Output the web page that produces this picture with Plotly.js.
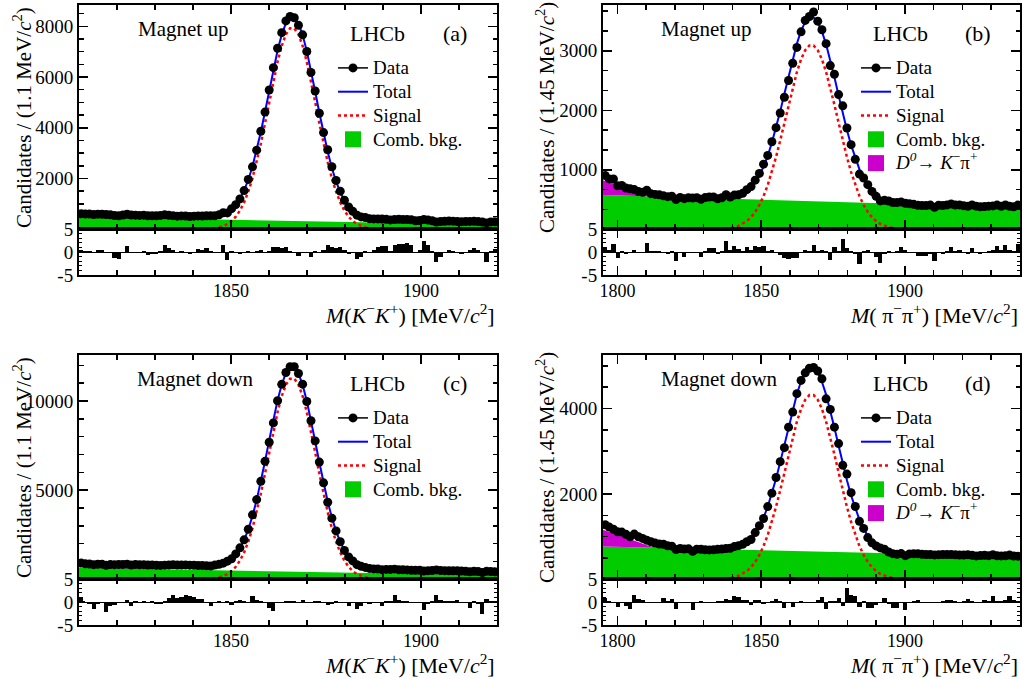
<!DOCTYPE html>
<html><head><meta charset="utf-8">
<script src="https://cdn.plot.ly/plotly-3.0.1.min.js"></script>
<style>html,body{margin:0;padding:0;background:#fff}#chart{width:1025px;height:679px}</style>
</head><body><div id="chart"></div>
<script>
// ---------- binning ----------
const NBINS = 100;
const kkRange = [1810, 1920], kkBin = 1.1;
const ppRange = [1795, 1940], ppBin = 1.45;

// ---------- (a) K-K+ magnet up ----------
const dataA = [610,600,599,584,596,594,581,569,544,534,
561,591,562,555,547,556,533,532,532,545,
570,549,537,518,527,521,505,516,527,522,
534,529,532,570,652,644,812,971,1198,1525,
1965,2462,3118,3865,4619,5490,6369,7137,7751,8214,
8386,8338,8043,7665,7005,6182,5448,4572,3811,3136,
2465,1924,1502,1145,876,708,556,487,463,417,
409,407,401,393,368,387,390,385,386,376,
337,347,383,361,334,287,306,317,327,319,
306,299,307,309,313,304,287,252,291,293];
const totalA = [598,595,592,589,586,582,579,576,573,570,
566,563,560,557,554,551,547,544,541,538,
535,531,528,525,522,519,516,514,513,513,
516,524,539,568,615,691,806,974,1212,1533,
1952,2477,3107,3834,4633,5468,6290,7045,7672,8124,
8359,8356,8115,7656,7022,6261,5433,4592,3786,3053,
2416,1885,1460,1132,888,713,592,510,457,421,
399,385,376,370,364,360,356,353,350,346,
343,340,337,334,330,327,324,321,318,315,
311,308,305,302,299,295,292,289,286,283];
const signalA = [0,0,0,0,0,0,0,0,0,0,
0,0,0,0,0,0,0,0,0,0,
0,0,0,0,0,0,1,2,4,7,
13,24,43,75,125,204,322,494,735,1059,
1481,2009,2643,3373,4175,5013,5838,6596,7227,7682,
7920,7920,7682,7227,6596,5838,5013,4175,3373,2643,
2009,1481,1059,735,494,322,204,125,75,43,
24,13,7,4,2,1,0,0,0,0,
0,0,0,0,0,0,0,0,0,0,
0,0,0,0,0,0,0,0,0,0];
const pullA = [0.5,0.2,0.3,-0.2,0.4,0.5,0.1,-0.3,-1.2,-1.5,
-0.2,1.2,0.1,-0.1,-0.3,0.2,-0.6,-0.5,-0.4,0.3,
1.5,0.8,0.4,-0.3,0.2,0.1,-0.5,0.1,0.6,0.4,
0.8,0.2,-0.3,0.1,1.5,-1.8,0.2,-0.1,-0.4,-0.2,
0.3,-0.3,0.2,0.5,-0.2,0.3,1.0,1.1,0.9,1.0,
0.3,-0.2,-0.8,0.1,-0.2,-1.0,0.2,-0.3,0.4,1.5,
1.0,0.9,1.1,0.4,-0.4,-0.2,-1.5,-1.0,0.3,-0.2,
0.5,1.1,1.3,1.2,0.2,1.5,1.8,1.7,1.9,1.6,
-0.3,0.4,2.5,1.5,0.2,-2.2,-1.0,-0.2,0.5,0.2,
-0.3,-0.5,0.1,0.4,0.8,0.5,-0.3,-2.2,0.3,0.6];
const combA = [490, 174];          // at kkRange ends

// ---------- (b) pi-pi+ magnet up ----------
const dataB = [904,846,846,730,736,693,682,667,633,623,
655,599,586,579,562,548,556,499,535,515,
530,525,531,504,532,542,544,512,530,581,
543,574,580,604,666,717,825,939,1095,1242,
1472,1708,1955,2220,2501,2791,3057,3319,3511,3576,
3652,3498,3354,3120,2751,2605,2264,2075,1702,1422,
1175,927,861,750,637,554,477,486,475,449,
449,457,438,428,419,404,400,400,406,371,
404,398,410,424,408,410,394,386,410,389,
379,381,389,393,406,387,408,385,379,406];
const totalB = [874,832,795,763,731,704,679,657,638,621,
606,592,581,572,564,557,551,546,542,538,
535,532,529,527,525,524,523,523,525,528,
534,546,566,597,641,704,791,906,1053,1235,
1453,1704,1982,2277,2577,2866,3124,3336,3487,3564,
3562,3480,3325,3109,2847,2554,2250,1951,1669,1414,
1192,1006,855,736,645,578,530,495,471,455,
443,436,430,426,423,420,418,416,414,412,
410,408,406,404,402,400,398,396,394,391,
389,387,385,383,381,379,377,375,373,371];
const signalB = [0,0,0,0,0,0,0,0,0,0,
0,0,0,0,0,0,0,0,0,0,
0,0,0,0,0,1,2,4,8,13,
22,36,58,91,137,202,291,408,557,741,
961,1214,1494,1791,2093,2384,2644,2858,3011,3090,
3090,3011,2858,2644,2384,2093,1791,1494,1214,961,
741,557,408,291,202,137,91,58,36,22,
13,8,4,2,1,0,0,0,0,0,
0,0,0,0,0,0,0,0,0,0,
0,0,0,0,0,0,0,0,0,0];
const pullB = [1.0,0.5,1.8,-1.2,0.2,-0.4,0.1,0.4,-0.2,0.1,
2.0,0.3,0.2,0.3,-0.1,-0.4,0.2,-2.0,-0.3,-1.0,
-0.2,-0.3,0.1,-1.0,0.3,0.8,0.9,-0.5,0.2,2.3,
0.4,1.2,0.6,0.3,1.0,0.5,1.2,1.1,1.3,0.2,
0.5,0.1,-0.6,-1.2,-1.5,-1.4,-1.2,-0.3,0.4,0.2,
1.5,0.3,0.5,0.2,-1.8,1.0,0.3,2.8,0.8,0.2,
-0.5,-2.5,0.2,0.5,-0.3,-1.0,-2.3,-0.4,0.2,-0.3,
0.3,1.0,0.4,0.1,-0.2,-0.8,-0.9,-0.8,-0.4,-2.0,
-0.3,-0.5,0.2,1.0,0.3,0.5,-0.2,-0.5,0.8,-0.1,
-0.5,-0.3,0.2,0.5,1.3,0.4,1.6,0.5,0.3,1.8];
const combB = [575, 370];          // at ppRange ends
const misIdMass = [1795,1797.5,1800,1802.5,1805,1807.5,1810,1812.5,1815];
const misIdTopB = [825,785,747,708,669,628,585,558,547];

// ---------- (c) K-K+ magnet down ----------
const dataC = [908,864,856,820,844,849,786,823,821,827,
829,841,800,824,816,818,801,806,784,779,
792,803,819,797,797,807,792,785,771,770,
761,747,795,839,902,1017,1146,1421,1765,2212,
2804,3616,4469,5496,6617,7691,8775,10018,10939,11603,
11927,11922,11547,10948,9975,8895,7764,6574,5412,4323,
3429,2712,2103,1621,1256,1031,820,726,664,611,
583,571,538,553,547,569,537,529,526,507,
505,507,461,485,495,520,491,485,477,474,
473,461,451,422,449,431,382,444,433,418];
const totalC = [878,873,868,864,859,855,850,846,841,836,
832,827,823,818,813,809,804,800,795,790,
786,781,777,772,767,763,759,757,755,754,
758,769,792,833,899,1007,1170,1410,1748,2203,
2799,3545,4442,5474,6609,7797,8964,10038,10929,11571,
11905,11900,11558,10906,10005,8923,7746,6550,5405,4363,
3458,2702,2098,1633,1285,1037,864,748,672,621,
590,569,557,548,540,534,528,524,519,514,
510,505,501,496,491,487,482,478,473,468,
464,459,455,450,445,441,436,432,427,422];
const signalC = [0,0,0,0,0,0,0,0,0,0,
0,0,0,0,0,0,0,0,0,0,
0,0,0,0,0,0,1,3,6,10,
18,34,61,107,178,290,458,702,1045,1505,
2105,2856,3757,4794,5934,7126,8298,9376,10272,10919,
11257,11257,10919,10272,9376,8298,7126,5934,4794,3757,
2856,2105,1505,1045,702,458,290,178,107,61,
34,18,10,6,3,1,0,0,0,0,
0,0,0,0,0,0,0,0,0,0,
0,0,0,0,0,0,0,0,0,0];
const pullC = [1.0,-0.3,-0.4,-1.5,-0.5,-0.2,-2.2,-0.8,-0.7,-0.3,
-0.1,0.5,-0.8,0.2,0.1,0.3,-0.1,0.2,-0.4,-0.4,
0.2,0.8,1.5,0.9,1.1,1.6,1.2,1.0,0.6,0.6,
0.1,-0.8,0.1,0.2,0.1,0.3,-0.7,0.3,0.4,0.2,
0.1,1.2,0.4,0.3,0.1,-1.2,-2.0,-0.2,0.1,0.3,
0.2,0.2,-0.1,0.4,-0.3,-0.3,0.2,0.3,0.1,-0.6,
-0.5,0.2,0.1,-0.3,-0.8,-0.2,-1.5,-0.8,-0.3,-0.4,
-0.3,0.1,-0.8,0.2,0.3,1.5,0.4,0.2,0.3,-0.3,
-0.2,0.1,-1.8,-0.5,0.2,1.5,0.4,0.3,0.2,0.3,
0.4,0.1,-0.2,-1.3,0.2,-0.5,-2.6,0.6,0.3,-0.2];
const combC = [640, 230];

// ---------- (d) pi-pi+ magnet down ----------
const dataD = [1277,1222,1171,1112,1105,1052,996,1058,996,958,
914,880,848,827,821,784,776,697,720,710,
713,657,705,704,689,688,690,701,707,720,
728,766,788,818,878,933,1093,1256,1425,1703,
2017,2385,2755,3084,3564,3918,4349,4659,4837,4944,
4963,4879,4696,4228,3980,3564,3179,2670,2464,2029,
1706,1357,1191,977,853,782,735,705,638,600,
585,601,554,595,596,598,586,581,581,570,
577,578,581,578,573,566,567,577,563,548,
555,563,554,575,551,547,549,566,545,541];
const totalD = [1249,1215,1181,1146,1112,1078,1044,1010,977,943,
911,880,851,824,798,776,757,741,728,718,
710,705,702,699,697,696,695,696,699,704,
715,731,760,804,866,955,1077,1238,1444,1699,
2004,2356,2745,3157,3576,3981,4342,4639,4851,4958,
4956,4844,4628,4327,3961,3552,3129,2712,2319,1963,
1653,1394,1184,1018,892,799,732,684,651,630,
615,606,598,593,589,586,584,581,579,577,
575,573,571,568,566,564,562,560,558,555,
553,551,549,547,544,542,540,538,536,534];
const signalD = [0,0,0,0,0,0,0,0,0,0,
0,0,0,0,0,0,0,0,0,0,
0,0,0,0,0,1,3,6,11,18,
31,50,81,127,191,282,406,570,778,1035,
1342,1696,2087,2502,2923,3330,3693,3992,4206,4316,
4316,4206,3992,3693,3330,2923,2502,2087,1696,1342,
1035,778,570,406,282,191,127,81,50,31,
18,11,6,3,1,0,0,0,0,0,
0,0,0,0,0,0,0,0,0,0,
0,0,0,0,0,0,0,0,0,0];
const pullD = [0.8,0.2,-0.3,-1.0,-0.2,-0.8,-1.5,1.5,0.6,0.5,
0.1,0.0,-0.1,0.1,0.8,0.3,0.7,-1.6,-0.3,-0.3,
0.1,-1.8,0.1,0.2,-0.3,-0.3,-0.2,0.2,0.3,0.6,
0.5,1.3,1.0,0.5,0.4,-0.7,0.5,0.5,-0.5,0.1,
0.3,0.6,0.2,-1.3,-0.2,-1.0,0.1,0.3,-0.2,-0.2,
0.1,0.5,1.0,-1.5,0.3,0.2,0.9,-0.8,3.0,1.5,
1.3,-1.0,0.2,-1.3,-1.3,-0.6,0.1,0.8,-0.5,-1.2,
-1.2,-0.2,-1.8,0.1,0.3,0.5,0.1,0.0,0.1,-0.3,
0.1,0.2,0.4,0.4,0.3,0.1,0.2,0.7,0.2,-0.3,
0.1,0.5,0.2,1.2,0.3,0.2,0.4,1.2,0.4,0.3];
const combD = [770, 540];
const misIdTopD = [1160,1105,1050,995,940,870,805,758,738];

// ---------- text ----------
const legendNames = ['Data','Total','Signal','Comb. bkg.','<i>D</i><sup><i>0</i></sup>\u2192 <i>K</i><sup>\u2212</sup>\u03c0<sup>+</sup>'];
const yTitleKK = 'Candidates / (1.1 MeV/<i>c</i><sup>2</sup>)';
const yTitlePP = 'Candidates / (1.45 MeV/<i>c</i><sup>2</sup>)';
const xTitleKK = '<i>M</i>(<i>K</i><sup>\u2212</sup><i>K</i><sup>+</sup>) [MeV/<i>c</i><sup>2</sup>]';
const xTitlePP = '<i>M</i>( \u03c0<sup>\u2212</sup>\u03c0<sup>+</sup>) [MeV/<i>c</i><sup>2</sup>]';

// ---------- styling / geometry ----------
const FONT = 'Liberation Serif, Times New Roman, serif';
const W = 1025, H = 679;
const PX = v => v / W, PY = v => 1 - v / H;
const GREEN = '#00cc00', MAGENTA = '#cc00cc', BLUE = '#0000ff', RED = '#ff0000';

function centers(lo, w) { const c = []; for (let i = 0; i < NBINS; i++) c.push(+(lo + w * (i + 0.5)).toFixed(4)); return c; }

const panels = [
  {tag:'(a)', mag:'Magnet up',   col:[79,497],  row:[5,229,275],   xr:kkRange, bw:kkBin, yMax:8840,  dtick:2000, minor:500,
   data:dataA, total:totalA, signal:signalA, pull:pullA, comb:combA, mis:null, yt:yTitleKK, xt:xTitleKK, ytx:22, magx:183},
  {tag:'(b)', mag:'Magnet up',   col:[603,1020], row:[5,229,275],  xr:ppRange, bw:ppBin, yMax:3770,  dtick:1000, minor:1000/3,
   data:dataB, total:totalB, signal:signalB, pull:pullB, comb:combB, mis:misIdTopB, yt:yTitlePP, xt:xTitlePP, ytx:545, magx:706},
  {tag:'(c)', mag:'Magnet down', col:[79,497],  row:[355,579,625], xr:kkRange, bw:kkBin, yMax:12584, dtick:5000, minor:1000,
   data:dataC, total:totalC, signal:signalC, pull:pullC, comb:combC, mis:null, yt:yTitleKK, xt:xTitleKK, ytx:22, magx:195},
  {tag:'(d)', mag:'Magnet down', col:[603,1020], row:[355,579,625], xr:ppRange, bw:ppBin, yMax:5255, dtick:2000, minor:500,
   data:dataD, total:totalD, signal:signalD, pull:pullD, comb:combD, mis:misIdTopD, yt:yTitlePP, xt:xTitlePP, ytx:545, magx:719}
];

const traces = [];
const layout = {
  width: W, height: H, margin:{l:0,r:0,t:0,b:0}, paper_bgcolor:'#fff', plot_bgcolor:'#fff',
  showlegend: true, bargap: 0, font:{family:FONT, color:'#000'}, annotations: []
};
const tickBase = {ticks:'inside', tickcolor:'#000', tickwidth:1.5, mirror:'ticks', showline:true, linewidth:2,
  linecolor:'#000', showgrid:false, zeroline:false, fixedrange:true, layer:'above traces'};

panels.forEach((p, k) => {
  const n = 2 * k + 1;
  const xm = 'x' + (n === 1 ? '' : n), ym = 'y' + (n === 1 ? '' : n);
  const xr = 'x' + (n + 1), yr = 'y' + (n + 1);
  const lg = 'legend' + (k === 0 ? '' : (k + 1));
  const xc = centers(p.xr[0], p.bw);
  const dom = [PX(p.col[0]), PX(p.col[1])];
  const domMain = [PY(p.row[1]), PY(p.row[0])];
  const domRes = [PY(p.row[2]), PY(p.row[1])];

  layout['xaxis' + (n === 1 ? '' : n)] = Object.assign({}, tickBase, {domain:dom, range:p.xr, anchor:ym,
    showticklabels:false, tickmode:'linear', tick0:0, dtick:50, ticklen:9,
    minor:{ticks:'inside', ticklen:5, tickwidth:1.5, tickcolor:'#000', tick0:0, dtick:10, showgrid:false}});
  layout['yaxis' + (n === 1 ? '' : n)] = Object.assign({}, tickBase, {domain:domMain, range:[p.yMax*0.0012, p.yMax], anchor:xm,
    tickmode:'linear', tick0:0, dtick:p.dtick, ticklen:9, tickformat:'d', tickfont:{family:FONT, size:19, color:'#000'},
    minor:{ticks:'inside', ticklen:4.5, tickwidth:1.5, tickcolor:'#000', tick0:0, dtick:p.minor, showgrid:false}});
  layout['xaxis' + (n + 1)] = Object.assign({}, tickBase, {domain:dom, range:p.xr, anchor:yr,
    showticklabels:true, tickmode:'linear', tick0:0, dtick:50, ticklen:9, ticklabelstandoff:-2,
    tickfont:{family:FONT, size:18, color:'#000'},
    minor:{ticks:'inside', ticklen:5, tickwidth:1.5, tickcolor:'#000', tick0:0, dtick:10, showgrid:false}});
  layout['yaxis' + (n + 1)] = Object.assign({}, tickBase, {domain:domRes, range:[-5, 5], anchor:xr,
    tickmode:'array', tickvals:[-5,0,5], ticktext:['-5','0','5'], ticklen:6,
    tickfont:{family:FONT, size:19, color:'#000'}, zeroline:true, zerolinecolor:'#000', zerolinewidth:1,
    minor:{ticks:'inside', ticklen:3, tickwidth:1, tickcolor:'#000', tick0:0, dtick:1, showgrid:false}});

  // background fills
  traces.push({type:'scatter', x:p.xr, y:p.comb, xaxis:xm, yaxis:ym, mode:'lines', line:{width:0, color:GREEN},
    fill:'tozeroy', fillcolor:GREEN, showlegend:false, hoverinfo:'skip'});
  if (p.mis) {
    traces.push({type:'scatter', x:misIdMass, y:p.mis, xaxis:xm, yaxis:ym, mode:'lines', line:{width:0, color:MAGENTA},
      fill:'tonexty', fillcolor:MAGENTA, showlegend:false, hoverinfo:'skip'});
  }
  // curves
  traces.push({type:'scatter', x:xc, y:p.signal, xaxis:xm, yaxis:ym, mode:'lines', name:'<span style="font-size:19px">' + legendNames[2] + '</span>',
    line:{color:RED, width:2.5, dash:'3px,3px'}, legend:lg, legendrank:3, hoverinfo:'skip'});
  traces.push({type:'scatter', x:xc, y:p.total, xaxis:xm, yaxis:ym, mode:'lines', name:'<span style="font-size:19px">' + legendNames[1] + '</span>',
    line:{color:BLUE, width:2}, legend:lg, legendrank:2, hoverinfo:'skip'});
  // data
  traces.push({type:'scatter', x:xc, y:p.data, xaxis:xm, yaxis:ym, mode:'markers',
    marker:{color:'#000', size:9}, showlegend:false, hoverinfo:'skip'});
  // pulls
  traces.push({type:'bar', x:xc, y:p.pull, xaxis:xr, yaxis:yr, width:p.bw, marker:{color:'#000', line:{width:0}},
    showlegend:false, hoverinfo:'skip'});
  // legend proxies (no marks drawn)
  traces.push({type:'scatter', x:[null], y:[null], xaxis:xm, yaxis:ym, mode:'lines+markers', name:'<span style="font-size:19px">' + legendNames[0] + '</span>',
    marker:{color:'#000', size:9}, line:{color:'#000', width:1.5}, legend:lg, legendrank:1});
  traces.push({type:'scatter', x:[null], y:[null], xaxis:xm, yaxis:ym, mode:'markers', name:'<span style="font-size:19px">' + legendNames[3] + '</span>',
    marker:{color:GREEN, size:16, symbol:'square'}, legend:lg, legendrank:4});
  if (p.mis) {
    traces.push({type:'scatter', x:[null], y:[null], xaxis:xm, yaxis:ym, mode:'markers', name:'<span style="font-size:19px">' + legendNames[4] + '</span>',
      marker:{color:MAGENTA, size:16, symbol:'square'}, legend:lg, legendrank:5});
  }

  layout[lg] = {x:PX(p.col[1] - 164), y:PY(p.row[0] + 46), xanchor:'left', yanchor:'top', bgcolor:'rgba(0,0,0,0)',
    borderwidth:0, font:{family:FONT, size:16, color:'#000'}, itemwidth:30, tracegroupgap:0, traceorder:'normal'};

  const ann = layout.annotations;
  const top = p.row[0];
  ann.push({xref:'paper', yref:'paper', x:PX(p.magx), y:PY(top + 24), text:p.mag, showarrow:false,
    xanchor:'center', yanchor:'middle', font:{family:FONT, size:21, color:'#000'}});
  ann.push({xref:'paper', yref:'paper', x:PX(p.col[1] - 149), y:PY(top + 28), text:'LHCb', showarrow:false,
    xanchor:'left', yanchor:'middle', font:{family:FONT, size:22, color:'#000'}});
  ann.push({xref:'paper', yref:'paper', x:PX(p.col[1] - 42), y:PY(top + 28), text:p.tag, showarrow:false,
    xanchor:'center', yanchor:'middle', font:{family:FONT, size:22, color:'#000'}});
  ann.push({xref:'paper', yref:'paper', x:PX(p.ytx), y:PY((p.row[0] + p.row[1]) / 2 + 1), text:p.yt, showarrow:false,
    textangle:-90, xanchor:'center', yanchor:'middle', font:{family:FONT, size:21, color:'#000'}});
  ann.push({xref:'paper', yref:'paper', x:PX(p.col[1]), y:PY(p.row[2] + 39), text:p.xt, showarrow:false,
    xanchor:'right', yanchor:'middle', font:{family:FONT, size:22, color:'#000'}});
});

Plotly.newPlot('chart', traces, layout, {staticPlot:true, displayModeBar:false});
</script>
</body></html>
